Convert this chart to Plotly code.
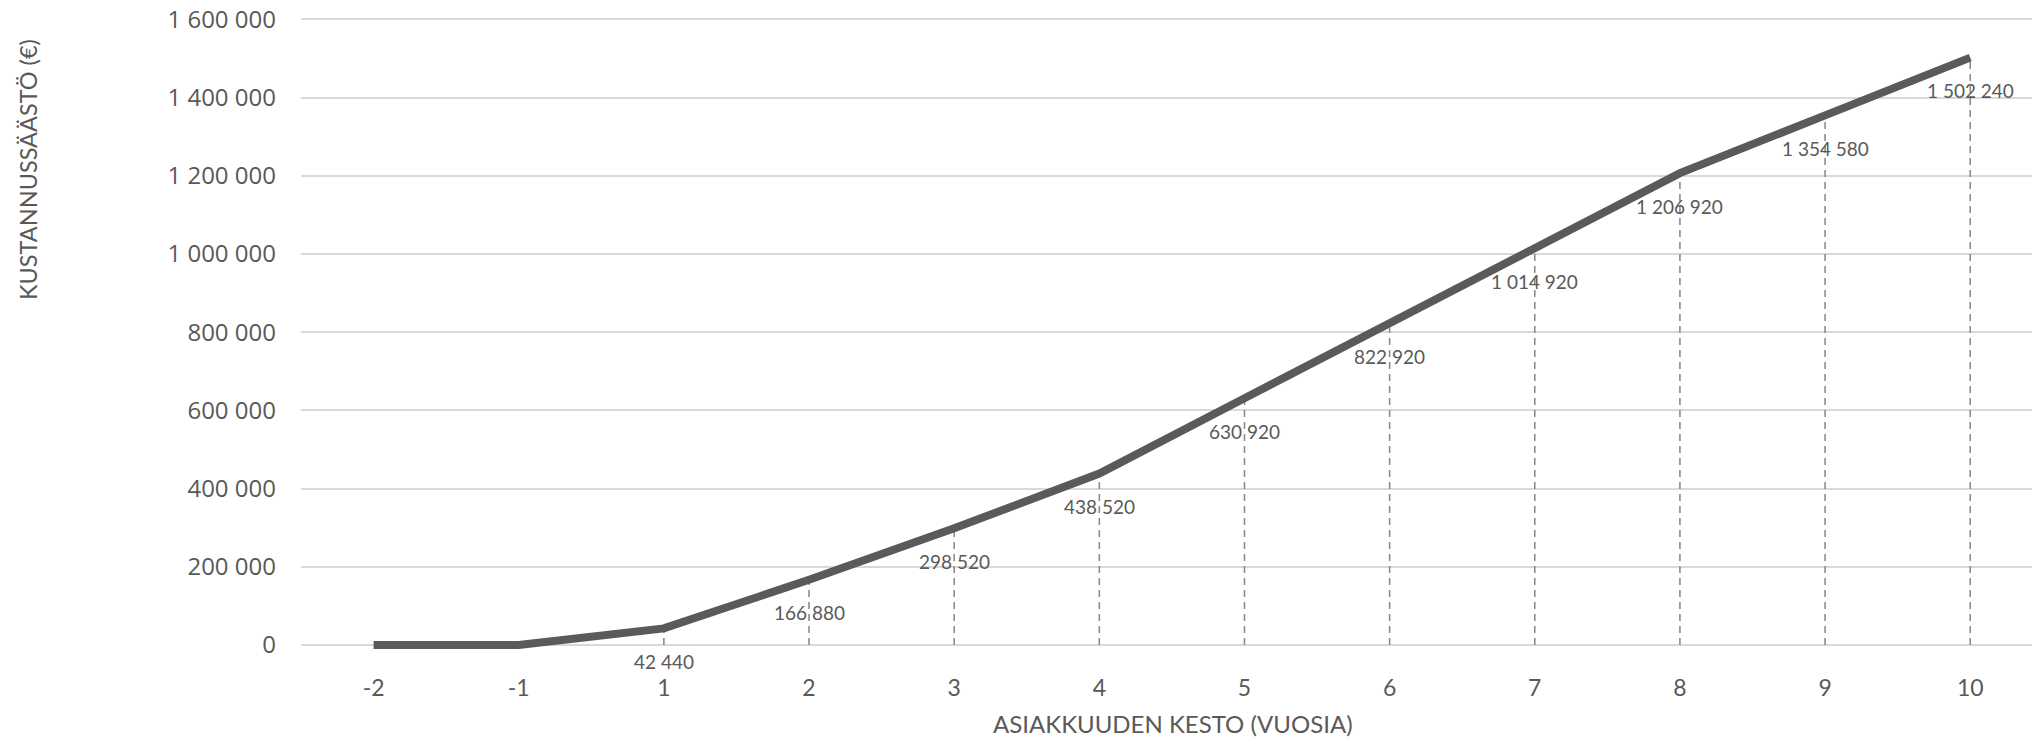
import plotly.graph_objects as go

# ---- data ----
years = ["-2", "-1", "1", "2", "3", "4", "5", "6", "7", "8", "9", "10"]
savings = [0, 0, 42440, 166880, 298520, 438520, 630920, 822920, 1014920, 1206920, 1354580, 1502240]
show_label = [False, False, True, True, True, True, True, True, True, True, True, True]
y_ticks = [0, 200000, 400000, 600000, 800000, 1000000, 1200000, 1400000, 1600000]
x_title = "ASIAKKUUDEN KESTO (VUOSIA)"
y_title = "KUSTANNUSSÄÄSTÖ (€)"

TEXT = "#595959"
W, H = 2032, 738
PLOT_L = 301
PLOT_T = 14
PLOT_B = 672
ZERO_Y = 645
TOP_Y = 19.4
ML, MR, MT, MB = PLOT_L, 0, PLOT_T, H - PLOT_B
PW = W - ML - MR
PH = H - MT - MB

def fmt(v):
    return f"{v:,}".replace(",", " ")

# dashed drop lines built from data
drop_x, drop_y = [], []
for x, y in zip(years, savings):
    drop_x += [x, x, None]
    drop_y += [0, y, None]

fig = go.Figure()
fig.add_trace(go.Scatter(
    x=drop_x, y=drop_y, mode="lines",
    line=dict(color="#8c8c8c", width=1.6, dash="7px,5px"),
    hoverinfo="skip", showlegend=False,
))
fig.add_trace(go.Scatter(
    x=years, y=savings, mode="lines",
    line=dict(color="#5a5a5a", width=8),
    showlegend=False,
))

for i, (y, s) in enumerate(zip(savings, show_label)):
    if s:
        fig.add_annotation(
            x=i, y=y, xref="x", yref="y", text=fmt(y), showarrow=False,
            yshift=-33, xanchor="center", yanchor="middle",
            font=dict(family="Lato", size=19, color=TEXT),
        )

step = 145.15
fig.update_xaxes(
    type="category", categoryorder="array", categoryarray=years,
    range=[-0.5, -0.5 + PW / step],
    showgrid=False, zeroline=False, showline=False, ticks="",
    tickfont=dict(family="Lato", size=23, color=TEXT),
    ticklabelstandoff=0, automargin=False,
)
ppu = (ZERO_Y - TOP_Y) / 1600000
fig.update_yaxes(
    range=[-(PLOT_B - ZERO_Y) / ppu, 1600000 + (TOP_Y - PLOT_T) / ppu],
    tickvals=y_ticks, tickformat=",d",
    showgrid=True, gridcolor="#d9d9d9", gridwidth=1.6,
    zeroline=False, showline=False, ticks="",
    tickfont=dict(family="Open Sans", size=24, color=TEXT),
    ticklabelstandoff=24, ticklabeloverflow="allow", automargin=False,
)

fig.add_annotation(
    xref="paper", yref="paper",
    x=(28 - ML) / PW, y=(PLOT_B - 170) / PH,
    text=y_title, textangle=-90, showarrow=False,
    xanchor="center", yanchor="middle",
    font=dict(family="Lato", size=23.5, color=TEXT),
)
fig.add_annotation(
    xref="paper", yref="paper",
    x=(1173 - ML) / PW, y=(PLOT_B - 723) / PH,
    text=x_title, showarrow=False,
    xanchor="center", yanchor="middle",
    font=dict(family="Lato", size=24, color=TEXT),
)

fig.update_layout(
    width=W, height=H,
    margin=dict(l=ML, r=MR, t=MT, b=MB),
    paper_bgcolor="white", plot_bgcolor="white",
    separators=", ",
    showlegend=False,
)

fig.write_html(
    "out.html",
    config={"displayModeBar": False},
    post_script="document.body.style.margin='0';document.body.style.overflow='hidden';",
)
